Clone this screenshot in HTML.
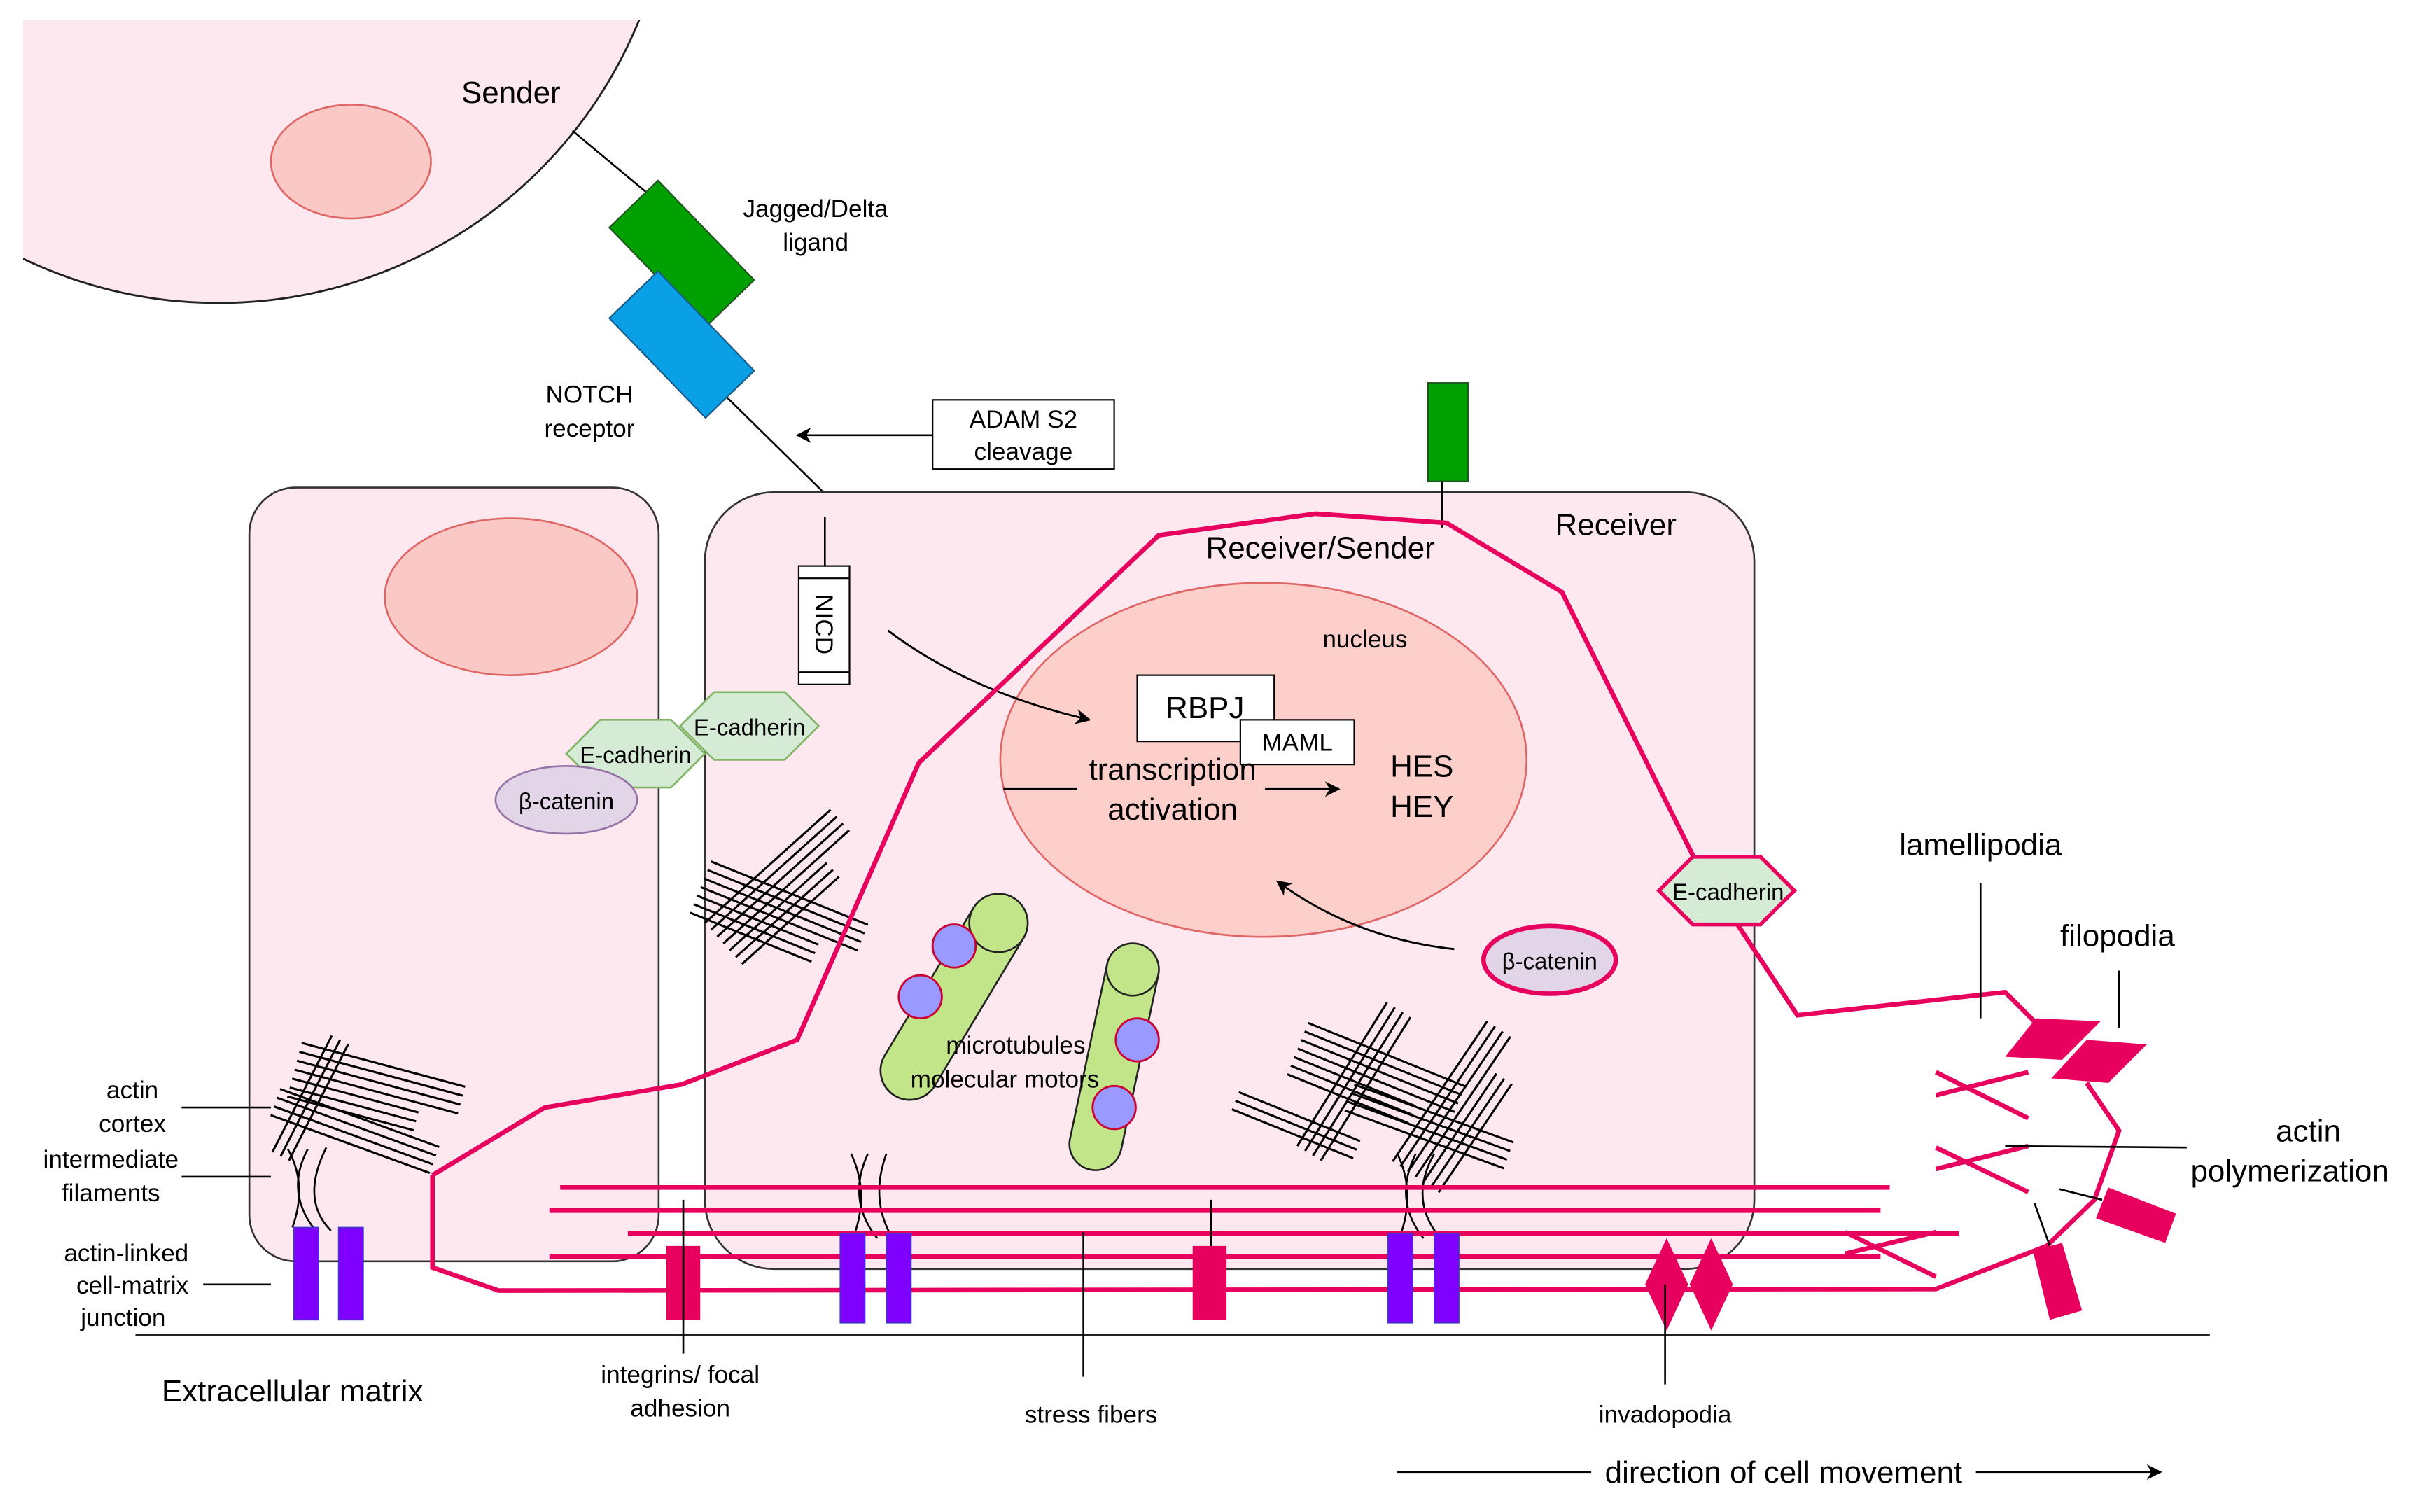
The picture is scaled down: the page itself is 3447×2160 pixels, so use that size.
<!DOCTYPE html>
<html><head><meta charset="utf-8"><style>
html,body{margin:0;padding:0;background:#fff;}
svg{display:block;}
text{font-family:"Liberation Sans",Arial,sans-serif;fill:#000;}
</style></head><body>
<svg width="3447" height="2160" viewBox="0 0 1568 983" preserveAspectRatio="none" xmlns="http://www.w3.org/2000/svg">
<defs>
<clipPath id="cs"><rect x="15" y="13" width="600" height="400"/></clipPath>
<marker id="ar" markerWidth="10" markerHeight="10" refX="9" refY="5" orient="auto" markerUnits="userSpaceOnUse"><path d="M0,0 L10,5 L0,10 L3,5 z" fill="#000"/></marker>
<g id="h4"><line x1="0" y1="0" x2="110" y2="0"/><line x1="0" y1="6" x2="110" y2="6"/><line x1="0" y1="12" x2="110" y2="12"/><line x1="0" y1="18" x2="110" y2="18"/></g>
<g id="h3"><line x1="0" y1="0" x2="85" y2="0"/><line x1="0" y1="6" x2="85" y2="6"/><line x1="0" y1="12" x2="85" y2="12"/></g>
</defs>

<circle cx="142" cy="-98" r="295" fill="#fde8f0" stroke="#222" stroke-width="1.3" clip-path="url(#cs)"/>
<ellipse cx="228" cy="105" rx="52" ry="37" fill="#fbc9c5" stroke="#e06666" stroke-width="1.2"/>
<text x="332" y="67" font-size="20" text-anchor="middle">Sender</text>
<line x1="372" y1="85" x2="420" y2="125" stroke="#000" stroke-width="1.2"/>
<line x1="472" y1="258" x2="535" y2="320" stroke="#000" stroke-width="1.2"/>
<rect x="-45" y="-22" width="90" height="44" fill="#00a000" stroke="#225522" transform="translate(443,165) rotate(46)"/>
<rect x="-45" y="-22" width="90" height="44" fill="#0aa0e6" stroke="#1a5a88" transform="translate(443,224) rotate(46)"/>
<text x="530" y="141" font-size="16" text-anchor="middle">Jagged/Delta</text>
<text x="530" y="163" font-size="16" text-anchor="middle">ligand</text>
<text x="383" y="262" font-size="16" text-anchor="middle">NOTCH</text>
<text x="383" y="284" font-size="16" text-anchor="middle">receptor</text>
<rect x="606" y="260" width="118" height="45" fill="#fff" stroke="#000"/>
<text x="665" y="278" font-size="16" text-anchor="middle">ADAM S2</text>
<text x="665" y="299" font-size="16" text-anchor="middle">cleavage</text>
<line x1="606" y1="283" x2="518" y2="283" stroke="#000" stroke-width="1.2" marker-end="url(#ar)"/>

<rect x="162" y="317" width="266" height="503" rx="30" fill="#fde8f0" stroke="#333" stroke-width="1.2"/>
<ellipse cx="332" cy="388" rx="82" ry="51" fill="#fbc9c5" stroke="#e06666" stroke-width="1.2"/>
<rect x="458" y="320" width="682" height="505" rx="45" fill="#fde8f0" stroke="#333" stroke-width="1.2"/>
<rect x="928" y="249" width="26" height="64" fill="#00a000" stroke="#225522"/>
<line x1="937" y1="313" x2="937" y2="343" stroke="#000" stroke-width="1.2"/>
<text x="858" y="363" font-size="20" text-anchor="middle">Receiver/Sender</text>
<text x="1050" y="348" font-size="20" text-anchor="middle">Receiver</text>

<ellipse cx="821" cy="494" rx="171" ry="115" fill="#fdcfcb" stroke="#e06666" stroke-width="1.2"/>
<text x="887" y="421" font-size="16" text-anchor="middle">nucleus</text>
<rect x="739" y="439" width="89" height="43" fill="#fff" stroke="#000"/>
<text x="783" y="467" font-size="20" text-anchor="middle">RBPJ</text>
<rect x="806" y="468" width="74" height="29" fill="#fff" stroke="#000"/>
<text x="843" y="488" font-size="16" text-anchor="middle">MAML</text>
<text x="762" y="507" font-size="20" text-anchor="middle">transcription</text>
<text x="762" y="533" font-size="20" text-anchor="middle">activation</text>
<line x1="652" y1="513" x2="700" y2="513" stroke="#000" stroke-width="1.2"/>
<line x1="822" y1="513" x2="870" y2="513" stroke="#000" stroke-width="1.2" marker-end="url(#ar)"/>
<text x="924" y="505" font-size="20" text-anchor="middle">HES</text>
<text x="924" y="531" font-size="20" text-anchor="middle">HEY</text>

<line x1="536" y1="336" x2="536" y2="368" stroke="#000" stroke-width="1.2"/>
<rect x="519" y="368" width="33" height="77" fill="#fff" stroke="#000"/>
<line x1="519" y1="376" x2="552" y2="376" stroke="#000"/>
<line x1="519" y1="437" x2="552" y2="437" stroke="#000"/>
<text x="0" y="0" font-size="16" text-anchor="middle" transform="translate(530,406) rotate(90)">NICD</text>
<path d="M577,410 Q630,450 708,468" fill="none" stroke="#000" stroke-width="1.3" marker-end="url(#ar)"/>
<path d="M945,617 Q880,610 830,573" fill="none" stroke="#000" stroke-width="1.3" marker-end="url(#ar)"/>

<polygon points="368,490 390,468 436,468 458,490 436,512 390,512" fill="#d5ebd6" stroke="#82b366" stroke-width="1.2"/>
<text x="413" y="496" font-size="15" text-anchor="middle">E-cadherin</text>
<polygon points="442,472 464,450 510,450 532,472 510,494 464,494" fill="#d5ebd6" stroke="#82b366" stroke-width="1.2"/>
<text x="487" y="478" font-size="15" text-anchor="middle">E-cadherin</text>
<ellipse cx="368" cy="520" rx="46" ry="22" fill="#e1d5e7" stroke="#9673a6" stroke-width="1.2"/>
<text x="368" y="526" font-size="15" text-anchor="middle">β-catenin</text>

<g stroke="#000" stroke-width="1.4" fill="none">
<g transform="translate(196,678) rotate(15)"><use href="#h4"/><use href="#h3" y="24"/></g>
<g transform="translate(182,708) rotate(20)"><use href="#h4"/></g>
<g transform="translate(177,749) rotate(-63)"><use href="#h3"/></g>
<g transform="translate(462,560) rotate(22)"><use href="#h4"/><use href="#h3" y="24"/></g>
<g transform="translate(458,600) rotate(-42)"><use href="#h4"/><use href="#h3" y="24"/></g>
<g transform="translate(805,710) rotate(22)"><use href="#h3"/></g>
<g transform="translate(850,665) rotate(22)"><use href="#h4"/><use href="#h3" y="24"/></g>
<g transform="translate(880,705) rotate(20)"><use href="#h4"/></g>
<g transform="translate(843,745) rotate(-58)"><use href="#h4"/></g>
<g transform="translate(905,755) rotate(-56)"><use href="#h4"/><use href="#h3" y="24"/></g>
</g>

<g transform="translate(620,648) rotate(31)">
<rect x="-19" y="-75" width="38" height="150" rx="19" fill="#c3e58a" stroke="#222" stroke-width="1.2"/>
<path d="M-19,-56 A19,19 0 0 0 19,-56" fill="none" stroke="#222" stroke-width="1.2"/>
</g>
<g transform="translate(724,687) rotate(12)">
<rect x="-17" y="-75" width="34" height="150" rx="17" fill="#c3e58a" stroke="#222" stroke-width="1.2"/>
<path d="M-17,-58 A17,17 0 0 0 17,-58" fill="none" stroke="#222" stroke-width="1.2"/>
</g>
<g fill="#9999ff" stroke="#cc0033" stroke-width="1.3">
<circle cx="620" cy="615" r="14"/><circle cx="598" cy="648" r="14"/>
<circle cx="739" cy="676" r="14"/><circle cx="724" cy="720" r="14"/>
</g>
<text x="660" y="685" font-size="16" text-anchor="middle">microtubules</text>
<text x="653" y="707" font-size="16" text-anchor="middle">molecular motors</text>

<g stroke="#000" stroke-width="1.2" fill="none">
<path d="M187,747 Q200,770 190,798"/><path d="M200,747 Q185,775 205,800"/><path d="M212,746 Q195,780 215,800"/>
<path d="M553,750 Q565,775 555,803"/><path d="M564,750 Q550,780 570,805"/><path d="M576,750 Q565,780 580,805"/>
<path d="M908,750 Q920,775 910,803"/><path d="M920,750 Q905,780 925,805"/><path d="M932,750 Q915,780 936,805"/>
</g>

<g stroke="#e8005e" stroke-width="3" fill="none">
<line x1="364" y1="772" x2="1228" y2="772"/>
<line x1="357" y1="787" x2="1222" y2="787"/>
<line x1="408" y1="802" x2="1273" y2="802"/>
<line x1="357" y1="817" x2="1222" y2="817"/>
<line x1="1199" y1="801" x2="1258" y2="830"/>
<line x1="1199" y1="815" x2="1258" y2="801"/>
<polyline points="281,764 354,720 443,705 518,676 597,496 753,348 855,334 940,340 1015,385 1102,560 1168,660 1303,645 1323,665"/>
<polyline points="1356,704 1377,735 1361,780 1330,810 1258,838 324,839 281,824 281,764"/>
<line x1="1258" y1="697" x2="1318" y2="727"/>
<line x1="1258" y1="712" x2="1318" y2="697"/>
<line x1="1258" y1="746" x2="1318" y2="775"/>
<line x1="1258" y1="760" x2="1318" y2="745"/>
</g>
<g fill="#e8005e">
<polygon points="1303,687 1323,662 1365,664 1340,689"/>
<polygon points="1333,701 1356,676 1395,679 1370,704"/>
<polygon points="1370,772 1414,789 1407,808 1362,792"/>
<polygon points="1321,813 1340,808 1353,852 1332,858"/>
<rect x="433" y="810" width="22" height="48"/>
<rect x="775" y="810" width="22" height="48"/>
<polygon points="1083,805 1097,835 1083,865 1069,835"/>
<polygon points="1112,805 1126,835 1112,865 1098,835"/>
</g>
<g fill="#7f00ff" stroke="#4433cc" stroke-width="0.8">
<rect x="191" y="798" width="16" height="60"/><rect x="220" y="798" width="16" height="60"/>
<rect x="546" y="802" width="16" height="58"/><rect x="576" y="802" width="16" height="58"/>
<rect x="902" y="802" width="16" height="58"/><rect x="932" y="802" width="16" height="58"/>
</g>

<polygon points="1078,579 1100,557 1144,557 1166,579 1144,601 1100,601" fill="#d5ebd6" stroke="#e8005e" stroke-width="2.5"/>
<text x="1123" y="585" font-size="15" text-anchor="middle">E-cadherin</text>
<ellipse cx="1007" cy="624" rx="43" ry="22" fill="#e1d5e7" stroke="#e8005e" stroke-width="3"/>
<text x="1007" y="630" font-size="15" text-anchor="middle">β-catenin</text>

<line x1="88" y1="868" x2="1436" y2="868" stroke="#222" stroke-width="1.5"/>

<g stroke="#000" stroke-width="1.2">
<line x1="118" y1="720" x2="176" y2="720"/>
<line x1="118" y1="765" x2="176" y2="765"/>
<line x1="132" y1="835" x2="176" y2="835"/>
<line x1="444" y1="780" x2="444" y2="880"/>
<line x1="787" y1="780" x2="787" y2="810"/>
<line x1="704" y1="801" x2="704" y2="895"/>
<line x1="1082" y1="835" x2="1082" y2="900"/>
<line x1="1287" y1="574" x2="1287" y2="662"/>
<line x1="1377" y1="631" x2="1377" y2="668"/>
<line x1="1303" y1="745" x2="1421" y2="746"/>
<line x1="1338" y1="773" x2="1366" y2="780"/>
<line x1="1322" y1="782" x2="1332" y2="810"/>
<line x1="908" y1="957" x2="1034" y2="957"/>
<line x1="1284" y1="957" x2="1404" y2="957" marker-end="url(#ar)"/>
</g>

<g font-size="16" text-anchor="middle">
<text x="86" y="714">actin</text>
<text x="86" y="736">cortex</text>
<text x="72" y="759">intermediate</text>
<text x="72" y="781">filaments</text>
<text x="82" y="820">actin-linked</text>
<text x="86" y="841">cell-matrix</text>
<text x="80" y="862">junction</text>
<text x="442" y="899">integrins/ focal</text>
<text x="442" y="921">adhesion</text>
<text x="709" y="925">stress fibers</text>
<text x="1082" y="925">invadopodia</text>
</g>
<g font-size="20" text-anchor="middle">
<text x="190" y="911">Extracellular matrix</text>
<text x="1159" y="964">direction of cell movement</text>
<text x="1287" y="556">lamellipodia</text>
<text x="1376" y="615">filopodia</text>
<text x="1500" y="742">actin</text>
<text x="1488" y="768">polymerization</text>
</g>
</svg>
</body></html>
